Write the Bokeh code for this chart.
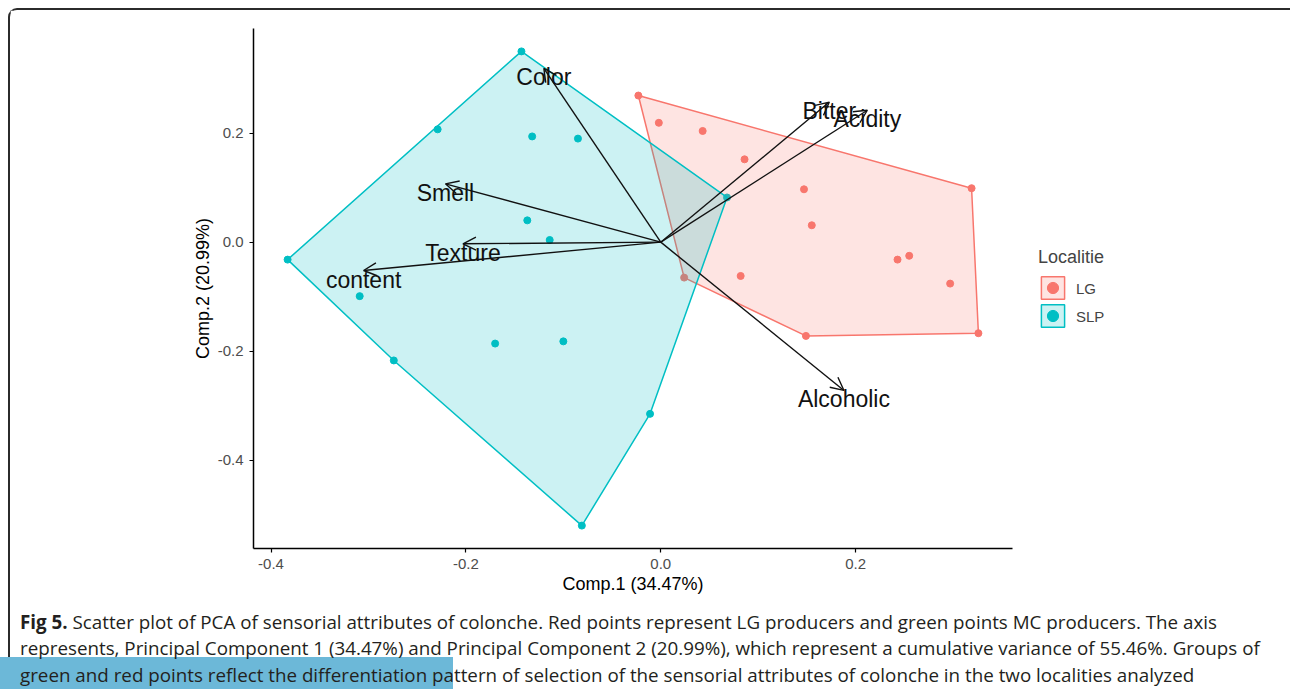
import numpy as np
from bokeh.plotting import figure
from bokeh.models import (ColumnDataSource, Range1d, FixedTicker, CustomJSTickFormatter,
                          Arrow, OpenHead, Legend, LegendItem, Div)
from bokeh.layouts import column
from bokeh.core.properties import value
from bokeh.embed import file_html
from bokeh.resources import INLINE

# ---------------- data ----------------
groups = ["LG", "SLP"]
lg_pc1 = [-0.023, -0.002, 0.043, 0.086, 0.147, 0.155, 0.243, 0.255, 0.297, 0.319, 0.326, 0.149, 0.082, 0.024]
lg_pc2 = [0.269, 0.219, 0.204, 0.152, 0.097, 0.031, -0.032, -0.025, -0.076, 0.099, -0.167, -0.172, -0.062, -0.065]
slp_pc1 = [-0.143, -0.229, -0.132, -0.085, -0.137, -0.114, -0.383, -0.309, -0.274, -0.170, -0.100, -0.011, -0.081, 0.068]
slp_pc2 = [0.350, 0.207, 0.194, 0.190, 0.040, 0.004, -0.032, -0.099, -0.217, -0.186, -0.182, -0.315, -0.520, 0.082]

attributes = ["Color", "Smell", "Texture", "content", "Bitter", "Acidity", "Alcoholic"]
load_pc1 = [-0.120, -0.221, -0.203, -0.305, 0.173, 0.212, 0.188]
load_pc2 = [0.319, 0.107, -0.003, -0.052, 0.257, 0.242, -0.272]

x_ticks = [-0.4, -0.2, 0.0, 0.2]
y_ticks = [-0.4, -0.2, 0.0, 0.2]
x_title = "Comp.1 (34.47%)"
y_title = "Comp.2 (20.99%)"
legend_title = "Localitie"

caption_bold = "Fig 5."
caption_lines = [
    " Scatter plot of PCA of sensorial attributes of colonche. Red points represent LG producers and green points MC producers. The axis",
    "represents, Principal Component 1 (34.47%) and Principal Component 2 (20.99%), which represent a cumulative variance of 55.46%. Groups of",
    "green and red points reflect the differentiation pattern of selection of the sensorial attributes of colonche in the two localities analyzed",
]

LG_COLOR = "#F8766D"
SLP_COLOR = "#00BFC4"
FONT = "Liberation Sans"


def convex_hull(xs, ys):
    pts = sorted(set(zip(xs, ys)))

    def cross(o, a, b):
        return (a[0] - o[0]) * (b[1] - o[1]) - (a[1] - o[1]) * (b[0] - o[0])

    lower = []
    for q in pts:
        while len(lower) >= 2 and cross(lower[-2], lower[-1], q) <= 0:
            lower.pop()
        lower.append(q)
    upper = []
    for q in reversed(pts):
        while len(upper) >= 2 and cross(upper[-2], upper[-1], q) <= 0:
            upper.pop()
        upper.append(q)
    h = lower[:-1] + upper[:-1]
    return [q[0] for q in h], [q[1] for q in h]


p = figure(frame_width=759, frame_height=520,
           min_border_left=243, min_border_right=270, min_border_top=18, min_border_bottom=54,
           x_range=Range1d(-0.418, 0.361), y_range=Range1d(-0.562, 0.392),
           output_backend="svg", toolbar_location=None,
           background_fill_color="white", border_fill_color="white")
p.outline_line_color = None
p.xgrid.visible = False
p.ygrid.visible = False

# points
pts_lg = p.scatter(lg_pc1, lg_pc2, size=7, color=LG_COLOR)
pts_slp = p.scatter(slp_pc1, slp_pc2, size=7, color=SLP_COLOR)

# hull frames
hx, hy = convex_hull(lg_pc1, lg_pc2)
patch_lg = p.patch(hx, hy, fill_color=LG_COLOR, fill_alpha=0.2, line_color=LG_COLOR, line_width=1.5)
hx, hy = convex_hull(slp_pc1, slp_pc2)
patch_slp = p.patch(hx, hy, fill_color=SLP_COLOR, fill_alpha=0.2, line_color=SLP_COLOR, line_width=1.5)

# loadings arrows
load_src = ColumnDataSource(dict(x0=[0.0] * len(attributes), y0=[0.0] * len(attributes),
                                 x1=load_pc1, y1=load_pc2, label=attributes))
p.add_layout(Arrow(end=OpenHead(size=13, line_width=1.4, line_color="#111111"),
                   x_start="x0", y_start="y0", x_end="x1", y_end="y1",
                   source=load_src, line_width=1.4, line_color="#111111"))
txt = p.text(x="x1", y="y1", text="label", source=load_src, text_font=value(FONT),
             text_font_size="23px", text_align="center", text_baseline="middle",
             y_offset=9, text_color="#111111")
txt.level = "overlay"

# axes
p.xaxis.ticker = FixedTicker(ticks=x_ticks)
p.yaxis.ticker = FixedTicker(ticks=y_ticks)
p.xaxis.formatter = CustomJSTickFormatter(code="return tick.toFixed(1);")
p.yaxis.formatter = CustomJSTickFormatter(code="return tick.toFixed(1);")
p.xaxis.axis_label = x_title
p.yaxis.axis_label = y_title
for ax in (p.xaxis[0], p.yaxis[0]):
    ax.axis_line_width = 1.5
    ax.axis_line_color = "black"
    ax.major_tick_line_color = "black"
    ax.major_tick_line_width = 1.2
    ax.major_tick_out = 4
    ax.major_tick_in = 0
    ax.minor_tick_out = 0
    ax.minor_tick_in = 0
    ax.major_label_text_color = "#4D4D4D"
    ax.major_label_text_font = FONT
    ax.major_label_text_font_size = "15px"
    ax.major_label_standoff = 6
    ax.axis_label_text_font = FONT
    ax.axis_label_text_font_size = "18px"
    ax.axis_label_text_font_style = "normal"
    ax.axis_label_text_color = "black"
    ax.axis_label_standoff = 2

legend = Legend(items=[LegendItem(label=groups[0], renderers=[patch_lg, pts_lg]),
                       LegendItem(label=groups[1], renderers=[patch_slp, pts_slp])],
                title=legend_title, location="center_left", orientation="vertical",
                glyph_width=29, glyph_height=28, spacing=0, label_standoff=9,
                padding=0, margin=26, border_line_color=None, background_fill_alpha=0,
                label_text_font=FONT, label_text_font_size="15px",
                title_text_font=FONT, title_text_font_size="18px",
                title_text_font_style="normal", title_standoff=6)
p.add_layout(legend, "right")

# caption
caption_html = (
    '<div style="position:relative;height:87px;overflow-y:clip;overflow-x:visible;'
    'font-family:\'Open Sans\';font-size:18.8px;line-height:26.5px;color:#231f20;">'
    '<div style="position:absolute;left:-15px;top:50px;width:453px;height:40px;background:#6cb8d8;"></div>'
    '<div style="position:relative;padding:1.5px 0 0 5px;white-space:nowrap;">'
    f'<b>{caption_bold}</b>{caption_lines[0]}<br>{caption_lines[1]}<br>{caption_lines[2]}'
    '</div></div>'
)
div = Div(text=caption_html, width=1272, height=87)

layout = column(p, div, styles={"margin-left": "8px", "margin-top": "8px",
                                "border-top": "2px solid #2b2b2b", "border-left": "2px solid #2b2b2b",
                                "border-top-left-radius": "9px"})

open("out.html", "w").write(file_html(layout, INLINE))
